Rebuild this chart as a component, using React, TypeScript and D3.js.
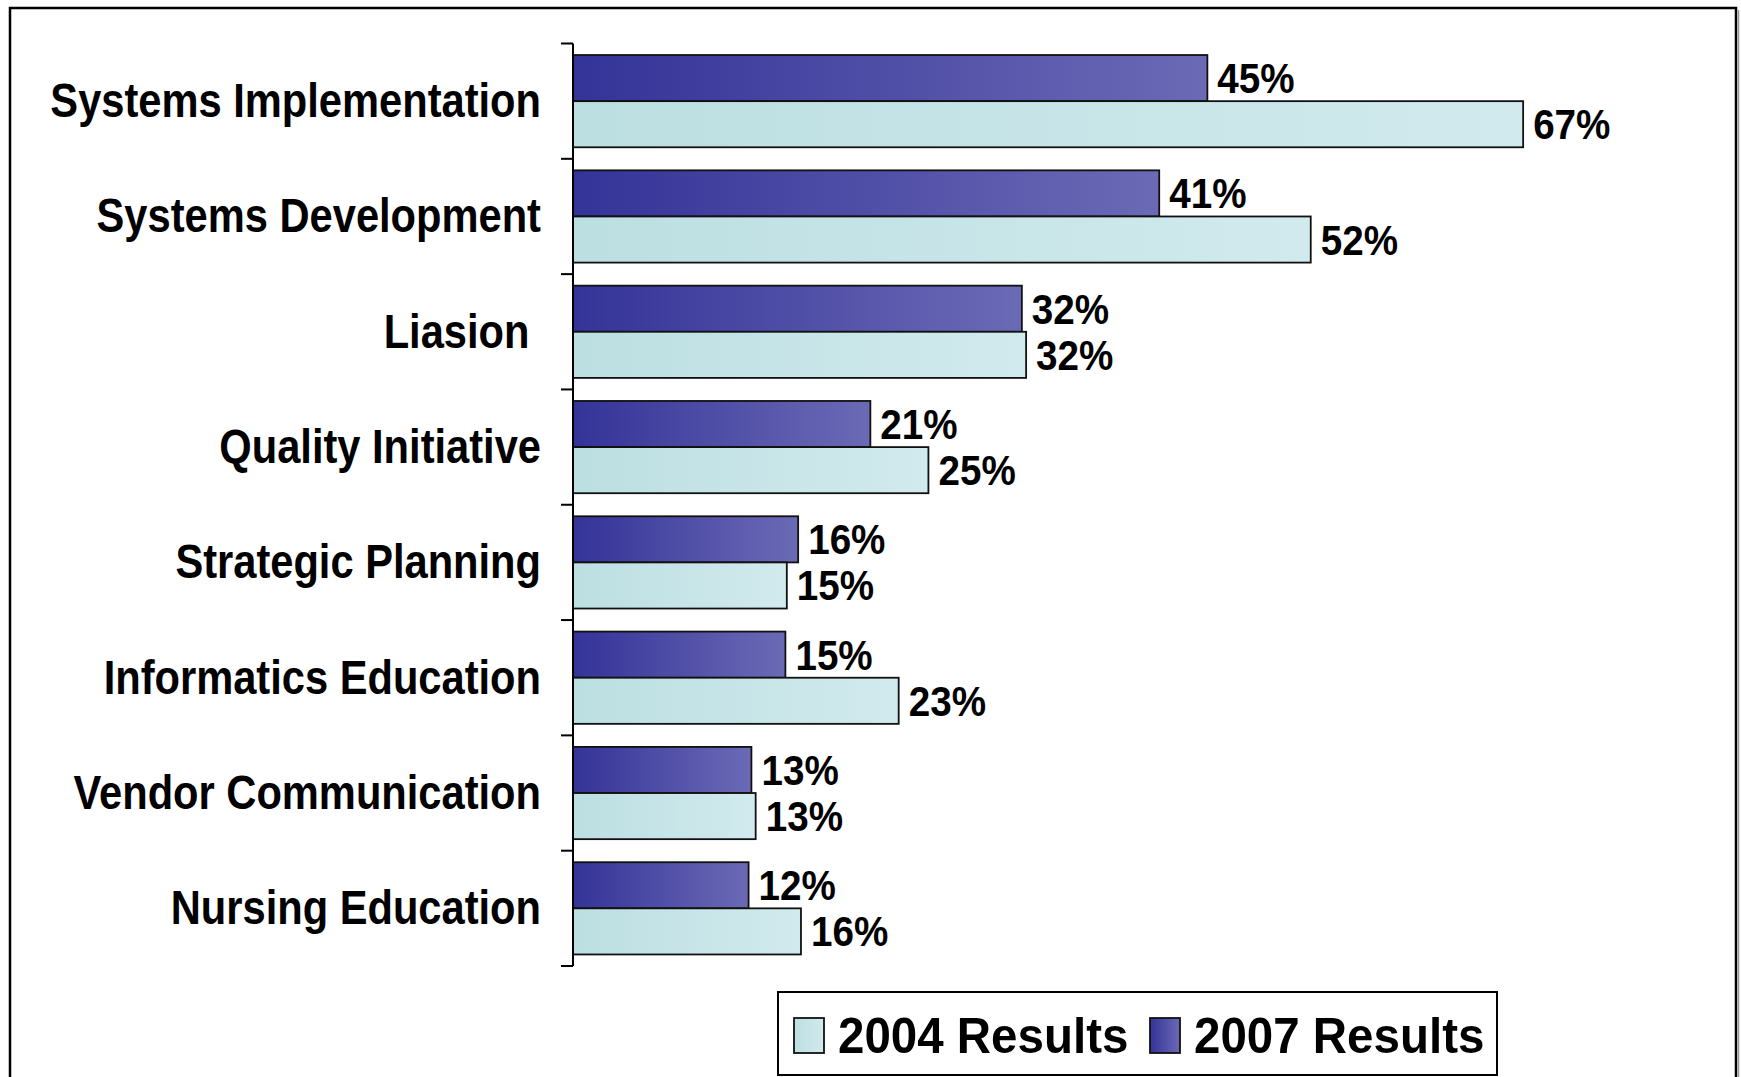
import React from "react";
import * as d3 from "d3";

const categories = [
  "Systems Implementation",
  "Systems Development",
  "Liasion ",
  "Quality Initiative",
  "Strategic Planning",
  "Informatics Education",
  "Vendor Communication",
  "Nursing Education",
];
const results2007 = [44.8, 41.4, 31.7, 21.0, 15.9, 15.0, 12.6, 12.4];
const results2004 = [67.1, 52.1, 32.0, 25.1, 15.1, 23.0, 12.9, 16.1];
const seriesKeys = ["2007", "2004"];
const legendItems = [
  { key: "2004", label: "2004 Results" },
  { key: "2007", label: "2007 Results" },
];

const W = 1741;
const H = 1077;
const FONT = "'Liberation Sans', Arial, sans-serif";

export default function App() {
  const x = d3.scaleLinear().domain([0, 80]).range([573, 1705.8]);
  const y = d3
    .scaleBand<string>()
    .domain(categories)
    .range([43.5, 966])
    .paddingInner(0.2)
    .paddingOuter(0.1);
  const inner = d3
    .scaleBand<string>()
    .domain(seriesKeys)
    .range([0, y.bandwidth()]);
  const step = y.step();
  const tickYs = d3.range(categories.length + 1).map((i) => 43.5 + i * step);

  const valuesFor = (k: string) => (k === "2007" ? results2007 : results2004);
  const fillFor = (k: string) => (k === "2007" ? "url(#g2007)" : "url(#g2004)");

  return (
    <svg
      width={W}
      height={H}
      style={{ position: "absolute", left: 0, top: 0, background: "#fff" }}
      fontFamily={FONT}
    >
      <defs>
        <linearGradient id="g2007" x1="0" y1="0" x2="1" y2="0">
          <stop offset="0" stopColor="#343398" />
          <stop offset="1" stopColor="#6b6ab6" />
        </linearGradient>
        <linearGradient id="g2004" x1="0" y1="0" x2="1" y2="0">
          <stop offset="0" stopColor="#bcdfe2" />
          <stop offset="1" stopColor="#d1eaed" />
        </linearGradient>
      </defs>

      {/* outer frame */}
      <rect x={10} y={8} width={1726} height={1100} fill="none" stroke="#000" strokeWidth={2.5} />
      <line x1={1738.5} y1={10} x2={1738.5} y2={H} stroke="#999" strokeWidth={1.5} />

      {/* bars */}
      {categories.map((c, i) =>
        seriesKeys.map((k) => {
          const v = valuesFor(k)[i];
          const by = (y(c) as number) + (inner(k) as number);
          const bh = inner.bandwidth();
          const x0 = x(0);
          const x1 = x(v);
          return (
            <g key={c + k}>
              <rect
                x={x0}
                y={by}
                width={x1 - x0}
                height={bh}
                fill={fillFor(k)}
                stroke="#111"
                strokeWidth={1.8}
              />
              <text
                transform={`translate(${x1 + 10},${by + bh / 2 + 15}) scale(0.92,1)`}
                fontSize={42}
                fontWeight="bold"
                fill="#000"
              >
                {Math.round(v) + "%"}
              </text>
            </g>
          );
        })
      )}

      {/* axis */}
      <line x1={x(0)} y1={tickYs[0]} x2={x(0)} y2={tickYs[tickYs.length - 1]} stroke="#000" strokeWidth={2} />
      {tickYs.map((ty, i) => (
        <line key={i} x1={x(0) - 12} y1={ty} x2={x(0)} y2={ty} stroke="#000" strokeWidth={2} />
      ))}

      {/* category labels */}
      {categories.map((c) => (
        <text
          key={c}
          transform={`translate(541,${(y(c) as number) + y.bandwidth() / 2 + 16}) scale(0.85,1)`}
          textAnchor="end"
          fontSize={49}
          fontWeight="bold"
          fill="#000"
          style={{ whiteSpace: "pre" }}
        >
          {c}
        </text>
      ))}

      {/* legend */}
      <rect x={778} y={992} width={719} height={83} fill="#fff" stroke="#000" strokeWidth={2} />
      {legendItems.map((it, i) => {
        const sx = i === 0 ? 794 : 1150;
        return (
          <g key={it.key}>
            <rect x={sx} y={1018} width={30} height={35} fill={fillFor(it.key)} stroke="#111" strokeWidth={1.8} />
            <text
              transform={`translate(${sx + 44},1053) scale(0.95,1)`}
              fontSize={50}
              fontWeight="bold"
              fill="#000"
            >
              {it.label}
            </text>
          </g>
        );
      })}
    </svg>
  );
}
